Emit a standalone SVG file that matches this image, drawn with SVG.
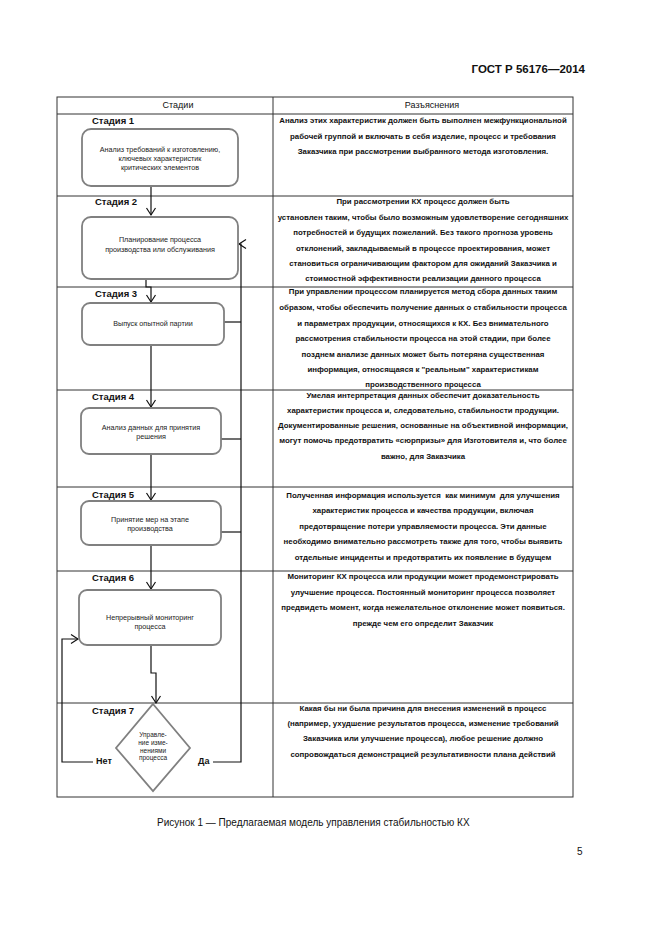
<svg xmlns="http://www.w3.org/2000/svg" width="661" height="935" viewBox="0 0 661 935">
<defs>
<marker id="arr" markerUnits="userSpaceOnUse" markerWidth="12" markerHeight="12" viewBox="-8 -6 10 12" refX="0" refY="0" orient="auto">
<polyline points="-7,-4.5 0,0 -7,4.5" fill="none" stroke="#111" stroke-width="1.2"/>
</marker>
<style>
.tbl{fill:none;stroke:#333;stroke-width:1}
.box{fill:#fff;stroke:#808080;stroke-width:1.8}
.con{fill:none;stroke:#111;stroke-width:1.2}
.st{font-family:"Liberation Sans",Arial,sans-serif;font-size:9.5px;font-weight:bold;fill:#111}
.bt{font-family:"Liberation Sans",Arial,sans-serif;font-size:7.2px;fill:#222;text-anchor:middle}
.rt{font-family:"Liberation Sans",Arial,sans-serif;font-size:7.85px;font-weight:bold;fill:#111;text-anchor:middle;white-space:pre}
.hd{font-family:"Liberation Sans",Arial,sans-serif;font-size:9px;fill:#111;text-anchor:middle}
.dt{font-family:"Liberation Sans",Arial,sans-serif;font-size:6.5px;fill:#222;text-anchor:middle}
</style>
</defs>
<rect width="661" height="935" fill="#fff"/>
<text x="585" y="73" font-family="Liberation Sans,Arial,sans-serif" font-size="11.5" font-weight="bold" text-anchor="end" fill="#111">ГОСТ Р 56176—2014</text>

<g id="table">
<rect class="tbl" x="57" y="97" width="516" height="700"/>
<line class="tbl" x1="273" y1="97" x2="273" y2="797"/>
<line class="tbl" x1="57" y1="114" x2="573" y2="114"/>
<line class="tbl" x1="57" y1="196" x2="573" y2="196"/>
<line class="tbl" x1="57" y1="287" x2="573" y2="287"/>
<line class="tbl" x1="57" y1="390" x2="573" y2="390"/>
<line class="tbl" x1="57" y1="487" x2="573" y2="487"/>
<line class="tbl" x1="57" y1="571" x2="573" y2="571"/>
<line class="tbl" x1="57" y1="703" x2="573" y2="703"/>
<text class="hd" x="178" y="108">Стадии</text>
<text class="hd" x="432" y="108">Разъяснения</text>
</g>

<g id="stages">
<text class="st" x="92" y="124">Стадия 1</text>
<text class="st" x="95" y="205">Стадия 2</text>
<text class="st" x="95" y="297">Стадия 3</text>
<text class="st" x="92" y="400">Стадия 4</text>
<text class="st" x="92" y="498">Стадия 5</text>
<text class="st" x="92" y="581">Стадия 6</text>
<text class="st" x="92" y="714">Стадия 7</text>
</g>

<g id="connectors">
<path class="con" d="M151,186 V215" marker-end="url(#arr)"/>
<path class="con" d="M146,279 V287 H151 V302" marker-end="url(#arr)"/>
<path class="con" d="M151,345 V407" marker-end="url(#arr)"/>
<path class="con" d="M151,454 V500" marker-end="url(#arr)"/>
<path class="con" d="M151,545 V589" marker-end="url(#arr)"/>
<path class="con" d="M151,645 V673 H156 V703" marker-end="url(#arr)"/>
<path class="con" d="M213,762 H241 V244 H239" marker-end="url(#arr)"/>
<path class="con" d="M224,322 H241"/>
<path class="con" d="M221,439 H241"/>
<path class="con" d="M221,532 H241"/>
<path class="con" d="M93,762 H62 V639 H78" marker-end="url(#arr)"/>
</g>

<g id="n1">
<rect class="box" x="82" y="129" width="156" height="57" rx="9"/>
<text class="bt" x="160" y="151.5">Анализ требований к изготовлению,</text>
<text class="bt" x="160" y="160.5">ключевых характеристик</text>
<text class="bt" x="160" y="169.5">критических элементов</text>
</g>
<g id="n2">
<rect class="box" x="82" y="217" width="156" height="62" rx="9"/>
<text class="bt" x="160" y="241.5">Планирование процесса</text>
<text class="bt" x="160" y="251.5">производства или обслуживания</text>
</g>
<g id="n3">
<rect class="box" x="82" y="303" width="142" height="42" rx="8"/>
<text class="bt" x="153" y="325.5">Выпуск опытной партии</text>
</g>
<g id="n4">
<rect class="box" x="81" y="408" width="140" height="46" rx="8"/>
<text class="bt" x="151" y="429.5">Анализ данных для принятия</text>
<text class="bt" x="151" y="438.5">решения</text>
</g>
<g id="n5">
<rect class="box" x="81" y="501" width="140" height="44" rx="8"/>
<text class="bt" x="150" y="521.5">Принятие мер на этапе</text>
<text class="bt" x="150" y="530.5">производства</text>
</g>
<g id="n6">
<rect class="box" x="79" y="590" width="142" height="55" rx="8"/>
<text class="bt" x="150" y="619.5">Непрерывный мониторинг</text>
<text class="bt" x="150" y="628.5">процесса</text>
</g>
<g id="n7">
<polygon class="box" points="153,704 190,748 153,791 116,748"/>
<text class="dt" x="153" y="737">Управле-</text>
<text class="dt" x="153" y="745">ние изме-</text>
<text class="dt" x="153" y="752.5">нениями</text>
<text class="dt" x="153" y="760">процесса</text>
<text class="st" x="96" y="764" style="font-size:9px">Нет</text>
<text class="st" x="198" y="764" style="font-size:9px">Да</text>
</g>

<g id="explanations">
<text class="rt" x="423" y="123">Анализ этих характеристик должен быть выполнен межфункциональной</text>
<text class="rt" x="423" y="138.5">рабочей группой и включать в себя изделие, процесс и требования</text>
<text class="rt" x="423" y="154">Заказчика при рассмотрении выбранного метода изготовления.</text>

<text class="rt" x="423" y="204">При рассмотрении КХ процесс должен быть</text>
<text class="rt" x="423" y="220">установлен таким, чтобы было возможным удовлетворение сегодняшних</text>
<text class="rt" x="423" y="235">потребностей и будущих пожеланий. Без такого прогноза уровень</text>
<text class="rt" x="423" y="251">отклонений, закладываемый в процессе проектирования, может</text>
<text class="rt" x="423" y="266">становиться ограничивающим фактором для ожиданий Заказчика и</text>
<text class="rt" x="423" y="281">стоимостной эффективности реализации данного процесса</text>

<text class="rt" x="423" y="294">При управлении процессом планируется метод сбора данных таким</text>
<text class="rt" x="423" y="310">образом, чтобы обеспечить получение данных о стабильности процесса</text>
<text class="rt" x="423" y="326">и параметрах продукции, относящихся к КХ. Без внимательного</text>
<text class="rt" x="423" y="341">рассмотрения стабильности процесса на этой стадии, при более</text>
<text class="rt" x="423" y="357">позднем анализе данных может быть потеряна существенная</text>
<text class="rt" x="423" y="372">информация, относящаяся к "реальным" характеристикам</text>
<text class="rt" x="423" y="387">производственного процесса</text>

<text class="rt" x="423" y="398">Умелая интерпретация данных обеспечит доказательность</text>
<text class="rt" x="423" y="413">характеристик процесса и, следовательно, стабильности продукции.</text>
<text class="rt" x="423" y="428">Документированные решения, основанные на объективной информации,</text>
<text class="rt" x="423" y="443">могут помочь предотвратить «сюрпризы» для Изготовителя и, что более</text>
<text class="rt" x="423" y="459">важно, для Заказчика</text>

<text class="rt" x="423" y="498">Полученная информация используется  как минимум  для улучшения</text>
<text class="rt" x="423" y="513">характеристик процесса и качества продукции, включая</text>
<text class="rt" x="423" y="529">предотвращение потери управляемости процесса. Эти данные</text>
<text class="rt" x="423" y="544">необходимо внимательно рассмотреть также для того, чтобы выявить</text>
<text class="rt" x="423" y="560">отдельные инциденты и предотвратить их появление в будущем</text>

<text class="rt" x="423" y="579">Мониторинг КХ процесса или продукции может продемонстрировать</text>
<text class="rt" x="423" y="595">улучшение процесса. Постоянный мониторинг процесса позволяет</text>
<text class="rt" x="423" y="610">предвидеть момент, когда нежелательное отклонение может появиться.</text>
<text class="rt" x="423" y="626">прежде чем его определит Заказчик</text>

<text class="rt" x="423" y="711">Какая бы ни была причина для внесения изменений в процесс</text>
<text class="rt" x="423" y="726">(например, ухудшение результатов процесса, изменение требований</text>
<text class="rt" x="423" y="741">Заказчика или улучшение процесса), любое решение должно</text>
<text class="rt" x="423" y="757">сопровождаться демонстрацией результативности плана действий</text>
</g>

<text x="157" y="826" font-family="Liberation Sans,Arial,sans-serif" font-size="10" fill="#111">Рисунок 1 — Предлагаемая модель управления стабильностью КХ</text>
<text x="577" y="855" font-family="Liberation Sans,Arial,sans-serif" font-size="10" fill="#111">5</text>
</svg>
